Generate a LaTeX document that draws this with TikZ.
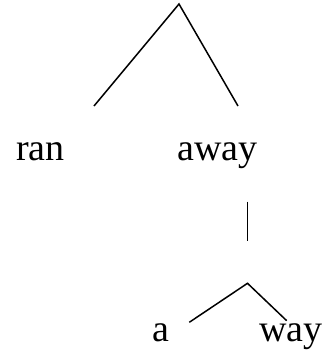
\documentclass[tikz,border=0pt]{standalone}
\usepackage{fontspec}
\setmainfont{Liberation Serif}
\begin{document}
\begin{tikzpicture}[x=1pt,y=-1pt,
  word/.style={anchor=base west,inner sep=0pt,font=\fontsize{38}{40}\selectfont},
  edge/.style={line width=1.5pt,line cap=butt}]
\useasboundingbox (0,0) rectangle (328,354);
\node[word] (ran) at (16,160) {ran};
\node[word] (away) at (177,160) {away};
\node[word] (a) at (152,341.5) {a};
\node[word] (way) at (259,341.5) {way};
\coordinate (top) at (179,4);
\coordinate (l1) at (94,106);
\coordinate (r1) at (238,106);
\coordinate (v1) at (247.5,201.5);
\coordinate (v2) at (247.5,241);
\coordinate (top2) at (247.5,283.3);
\coordinate (l2) at (189.3,322.3);
\coordinate (r2) at (286.7,320.7);
\draw[edge] (l1) -- (top) -- (r1);
\draw[edge] (v1) -- (v2);
\draw[edge] (l2) -- (top2) -- (r2);
\end{tikzpicture}
\end{document}
